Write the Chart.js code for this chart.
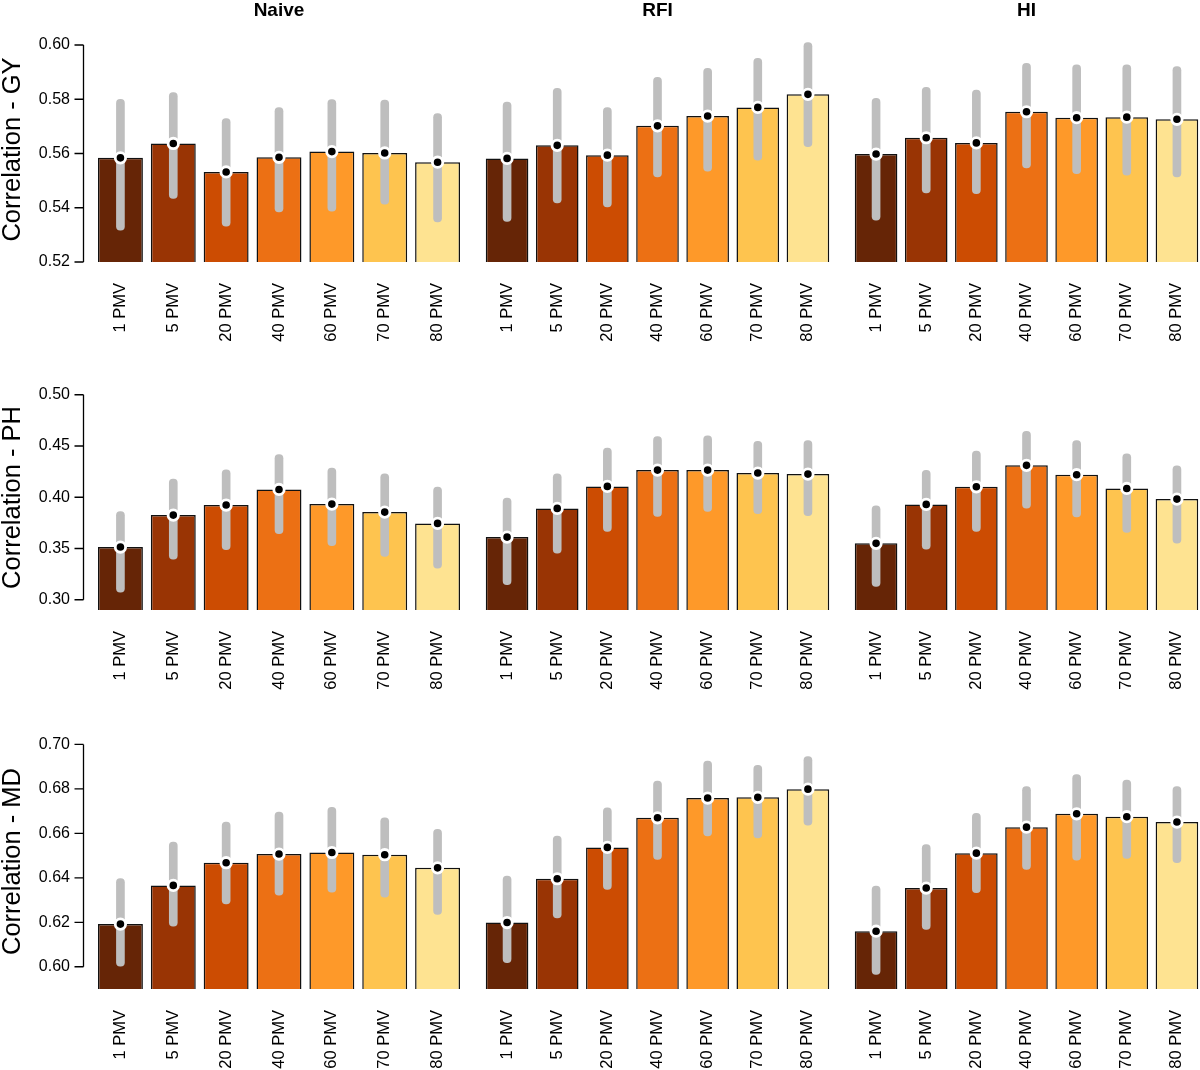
<!DOCTYPE html>
<html><head><meta charset="utf-8">
<script src="https://cdn.jsdelivr.net/npm/chart.js@4"></script>
<style>
html,body{margin:0;padding:0;background:#fff;overflow:hidden;width:1200px;height:1070px}
#wrap{position:relative;width:1200px;height:1070px;overflow:hidden}
.p{position:absolute}
</style></head><body><div id="wrap"></div>
<script>
const categories = ['1 PMV','5 PMV','20 PMV','40 PMV','60 PMV','70 PMV','80 PMV'];
const models = ['Naive','RFI','HI'];
const traits = ['GY','PH','MD'];
const barColors = ['#662506','#993404','#CC4C02','#EC7014','#FE9929','#FEC44F','#FEE391'];

// GY
const GY_Naive    = [0.5584, 0.5637, 0.5532, 0.5586, 0.5607, 0.5602, 0.5568];
const GY_Naive_lo = [0.5317, 0.5434, 0.5332, 0.5385, 0.5387, 0.5413, 0.5348];
const GY_Naive_hi = [0.5800, 0.5825, 0.5729, 0.5769, 0.5799, 0.5797, 0.5747];
const GY_RFI      = [0.5582, 0.5630, 0.5594, 0.5702, 0.5738, 0.5770, 0.5818];
const GY_RFI_lo   = [0.5350, 0.5418, 0.5403, 0.5514, 0.5535, 0.5575, 0.5625];
const GY_RFI_hi   = [0.5790, 0.5840, 0.5769, 0.5881, 0.5914, 0.5951, 0.6009];
const GY_HI       = [0.5598, 0.5658, 0.5639, 0.5754, 0.5732, 0.5734, 0.5726];
const GY_HI_lo    = [0.5354, 0.5455, 0.5452, 0.5547, 0.5526, 0.5520, 0.5514];
const GY_HI_hi    = [0.5803, 0.5844, 0.5834, 0.5932, 0.5927, 0.5927, 0.5920];
// PH
const PH_Naive    = [0.3514, 0.3826, 0.3924, 0.4076, 0.3933, 0.3855, 0.3745];
const PH_Naive_lo = [0.3075, 0.3397, 0.3488, 0.3644, 0.3527, 0.3423, 0.3309];
const PH_Naive_hi = [0.3859, 0.4177, 0.4268, 0.4415, 0.4285, 0.4229, 0.4099];
const PH_RFI      = [0.3611, 0.3891, 0.4106, 0.4265, 0.4265, 0.4236, 0.4226];
const PH_RFI_lo   = [0.3146, 0.3455, 0.3667, 0.3813, 0.3862, 0.3839, 0.3820];
const PH_RFI_hi   = [0.3992, 0.4229, 0.4480, 0.4593, 0.4600, 0.4545, 0.4554];
const PH_HI       = [0.3550, 0.3930, 0.4102, 0.4311, 0.4220, 0.4086, 0.3982];
const PH_HI_lo    = [0.3130, 0.3494, 0.3667, 0.3894, 0.3807, 0.3657, 0.3553];
const PH_HI_hi    = [0.3917, 0.4262, 0.4450, 0.4642, 0.4554, 0.4424, 0.4307];
// MD
const MD_Naive    = [0.6192, 0.6366, 0.6468, 0.6507, 0.6514, 0.6504, 0.6445];
const MD_Naive_lo = [0.6003, 0.6183, 0.6283, 0.6322, 0.6336, 0.6313, 0.6235];
const MD_Naive_hi = [0.6397, 0.6561, 0.6651, 0.6696, 0.6717, 0.6670, 0.6618];
const MD_RFI      = [0.6199, 0.6396, 0.6537, 0.6670, 0.6759, 0.6762, 0.6799];
const MD_RFI_lo   = [0.6018, 0.6220, 0.6348, 0.6483, 0.6588, 0.6580, 0.6637];
const MD_RFI_hi   = [0.6408, 0.6588, 0.6715, 0.6835, 0.6925, 0.6906, 0.6945];
const MD_HI       = [0.6160, 0.6354, 0.6511, 0.6628, 0.6688, 0.6675, 0.6651];
const MD_HI_lo    = [0.5966, 0.6168, 0.6333, 0.6438, 0.6480, 0.6487, 0.6468];
const MD_HI_hi    = [0.6363, 0.6550, 0.6690, 0.6810, 0.6865, 0.6840, 0.6810];

// y ticks and axis ranges per trait
const yTicks_GY = [0.52, 0.54, 0.56, 0.58, 0.60];
const yTicks_PH = [0.30, 0.35, 0.40, 0.45, 0.50];
const yTicks_MD = [0.60, 0.62, 0.64, 0.66, 0.68, 0.70];
const yRange_GY = [0.52, 0.60295];
const yRange_PH = [0.29, 0.5095];
const yRange_MD = [0.59, 0.7047];

const DATA = {
  GY: {Naive:[GY_Naive,GY_Naive_lo,GY_Naive_hi], RFI:[GY_RFI,GY_RFI_lo,GY_RFI_hi], HI:[GY_HI,GY_HI_lo,GY_HI_hi]},
  PH: {Naive:[PH_Naive,PH_Naive_lo,PH_Naive_hi], RFI:[PH_RFI,PH_RFI_lo,PH_RFI_hi], HI:[PH_HI,PH_HI_lo,PH_HI_hi]},
  MD: {Naive:[MD_Naive,MD_Naive_lo,MD_Naive_hi], RFI:[MD_RFI,MD_RFI_lo,MD_RFI_hi], HI:[MD_HI,MD_HI_lo,MD_HI_hi]}
};
const TICKS = {GY:yTicks_GY, PH:yTicks_PH, MD:yTicks_MD};
const RANGES = {GY:yRange_GY, PH:yRange_PH, MD:yRange_MD};

// layout (pixels)
const COLS = [{left:0, width:464, yAxisW:94}, {left:482, width:351, yAxisW:0}, {left:851, width:351, yAxisW:0}];
const ROWS = [{top:0, titleH:37, chartH:225, xAxisH:88}, {top:385, titleH:0, chartH:225, xAxisH:90}, {top:734, titleH:0, chartH:255, xAxisH:81}];

Chart.defaults.font.family = "'Liberation Sans', Arial, Helvetica, sans-serif";
Chart.defaults.color = '#000';

const rAxisPlugin = {
  id: 'rAxis',
  afterDraw(chart) {
    const ys = chart.scales.y;
    if (!ys.options.display) return;
    const ctx = chart.ctx;
    const x = Math.round(chart.chartArea.left - 11.5) + 0.5;
    const t = ys.ticks;
    const yTop = ys.getPixelForValue(t[t.length - 1].value);
    const yBot = ys.getPixelForValue(t[0].value);
    ctx.save();
    ctx.strokeStyle = '#000';
    ctx.lineWidth = 1.3;
    ctx.beginPath();
    ctx.moveTo(x, yBot); ctx.lineTo(x, yTop);
    t.forEach(tk => { const y = ys.getPixelForValue(tk.value); ctx.moveTo(x - 9, y); ctx.lineTo(x, y); });
    ctx.stroke();
    ctx.restore();
  }
};

const wrap = document.getElementById('wrap');
traits.forEach((trait, r) => {
  models.forEach((model, c) => {
    const col = COLS[c], row = ROWS[r];
    const h = row.titleH + row.chartH + row.xAxisH;
    const div = document.createElement('div');
    div.className = 'p';
    div.style.left = col.left + 'px';
    div.style.top = row.top + 'px';
    div.style.width = col.width + 'px';
    div.style.height = h + 'px';
    const cv = document.createElement('canvas');
    div.appendChild(cv);
    wrap.appendChild(div);
    const [vals, lo, hi] = DATA[trait][model];
    const ticks = TICKS[trait], range = RANGES[trait];
    new Chart(cv, {
      type: 'bar',
      data: {
        labels: categories,
        datasets: [
          {type:'line', data: vals, showLine:false, pointRadius:5.2, pointHoverRadius:5.2,
           pointBackgroundColor:'#000', pointBorderColor:'#fff', pointBorderWidth:2.8, pointHoverBorderWidth:2.8, order:1},
          {type:'bar', data: lo.map((l, i) => [l, hi[i]]), backgroundColor:'#BEBEBE', barThickness:8,
           borderRadius:4, borderSkipped:false, grouped:false, order:2},
          {type:'bar', data: vals, backgroundColor: barColors, borderColor:'#111', borderWidth:1.5,
           barPercentage:0.85, categoryPercentage:1, grouped:false, order:3}
        ]
      },
      options: {
        responsive: true, maintainAspectRatio: false, animation: false, events: [],
        layout: {padding: 0, autoPadding: false},
        plugins: {
          legend: {display:false}, tooltip: {enabled:false},
          title: {display: r === 0, text: model, fullSize:false, color:'#000',
                  font:{size:19, weight:'bold', lineHeight:1}, padding:{top:1, bottom:17}}
        },
        scales: {
          x: {
            grid: {display:false, drawTicks:false, tickLength:0},
            border: {display:false},
            ticks: {minRotation:90, maxRotation:90, autoSkip:false, padding:21, font:{size:16.5}, color:'#000'},
            afterFit(s) { s.height = row.xAxisH; s.paddingLeft = 0; s.paddingRight = 0; }
          },
          y: {
            display: c === 0,
            min: range[0], max: range[1],
            grid: {display:false, drawTicks:false, tickLength:0},
            border: {display:false},
            afterBuildTicks(s) { s.ticks = ticks.map(v => ({value: v})); },
            ticks: {padding:24, font:{size:16}, color:'#000', callback: v => Number(v).toFixed(2)},
            title: {display: c === 0, text: 'Correlation - ' + trait, font:{size:25.5, lineHeight:1}, padding:{top:0, bottom:0}, color:'#000'},
            afterFit(s) { if (c === 0) s.width = col.yAxisW; s.paddingTop = 0; s.paddingBottom = 0; }
          }
        }
      },
      plugins: [rAxisPlugin]
    });
  });
});
</script>
</body></html>
